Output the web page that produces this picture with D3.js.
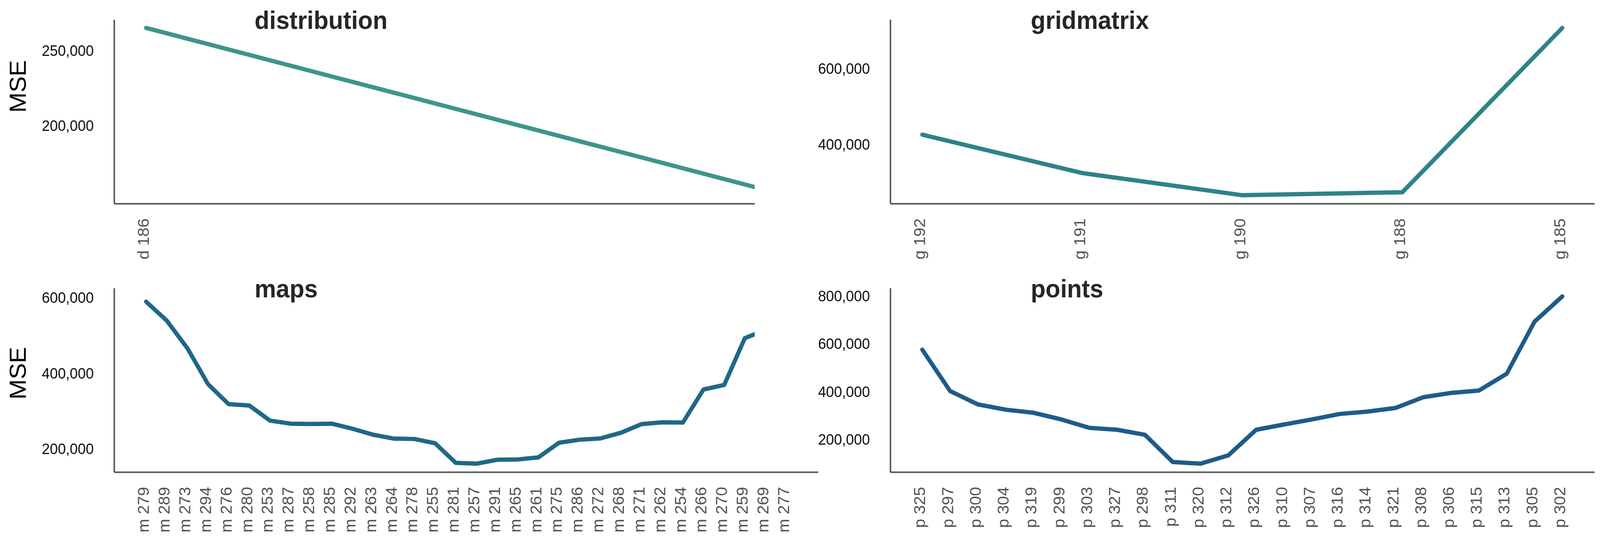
<!DOCTYPE html>
<html>
<head>
<meta charset="utf-8">
<script src="https://cdn.jsdelivr.net/npm/d3@7"></script>
<style>
  html, body { margin: 0; padding: 0; background: #fff; overflow: hidden; }
  #graph svg { display: block; }
  text { font-family: Arial, "Liberation Sans", sans-serif; }
</style>
</head>
<body>
<div id="graph"></div>
<script>
// values
let distCats = ["d 186", ""];   // 2nd category is cut off in the picture, no label visible
let distMSE = [265200, 154100];

let gridCats = ["g 192", "g 191", "g 190", "g 188", "g 185"];
let gridMSE = [426800, 325800, 267500, 275300, 707800];

let mapCats = ["m 279", "m 289", "m 273", "m 294", "m 276", "m 280", "m 253", "m 287",
    "m 258", "m 285", "m 292", "m 263", "m 264", "m 278", "m 255", "m 281",
    "m 257", "m 291", "m 265", "m 261", "m 275", "m 286", "m 272", "m 268",
    "m 271", "m 262", "m 254", "m 266", "m 270", "m 259", "m 269", "m 277"];
let mapMSE = [590000, 540000, 467000, 372000, 319000, 315500, 275600, 267500,
    266600, 267500, 254000, 238200, 228000, 227000, 215600, 163900,
    161700, 172000, 173000, 178300, 217000, 225200, 228400, 243500,
    266400, 271000, 270500, 358000, 369800, 493500, 515000, 604000];

let pointCats = ["p 325", "p 297", "p 300", "p 304", "p 319", "p 299", "p 303", "p 327",
    "p 298", "p 311", "p 320", "p 312", "p 326", "p 310", "p 307", "p 316",
    "p 314", "p 321", "p 308", "p 306", "p 315", "p 313", "p 305", "p 302"];
let pointMSE = [577000, 404000, 348000, 326000, 313000, 285000, 250000, 242000,
    221000, 107000, 100000, 135000, 242000, 264000, 285000, 308000,
    318000, 333000, 378000, 396000, 406000, 476000, 694000, 800000];

let distTicks = [200000, 250000];
let gridTicks = [400000, 600000];
let mapTicks = [200000, 400000, 600000];
let pointTicks = [200000, 400000, 600000, 800000];

const width = 4236, height = 1387;
const plotW = 1864, plotH = 471;
const cutX = 1998;   // left column is cut off here

// viewBox stretched over the window so the figure fills it edge to edge
let svg = d3.select("#graph")
    .append("svg")
    .attr("viewBox", `0 0 ${width} ${height}`)
    .attr("preserveAspectRatio", "none")
    .attr("width", "100vw")
    .attr("height", "100vh");

svg.append("rect").attr("width", width).attr("height", height).attr("fill", "#fff");

let defs = svg.append("defs");
defs.append("clipPath").attr("id", "cutAll")
    .append("rect").attr("x", 0).attr("y", 0).attr("width", cutX).attr("height", 690);
defs.append("clipPath").attr("id", "cutLine")
    .append("rect").attr("x", 0).attr("y", 0).attr("width", cutX).attr("height", height);

let fmt = d3.format(",");

function drawPanel(p) {
    let g = svg.append("g");
    if (p.clipAll) g.attr("clip-path", "url(#cutAll)");
    let inner = g.append("g").attr("transform", `translate(${p.left}, ${p.top})`);

    // seaborn-ish 5% margins on both axes
    let x = d3.scalePoint()
        .domain(p.cats)
        .range([0, plotW])
        .padding(0.05 * (p.cats.length - 1));

    let lo = d3.min(p.values), hi = d3.max(p.values), pad = (hi - lo) * 0.05;
    let y = d3.scaleLinear()
        .domain([lo - pad, hi + pad])
        .range([plotH, 0]);

    // y axis
    let ya = inner.append("g")
        .call(d3.axisLeft(y).tickValues(p.ticks).tickFormat(fmt).tickSize(0).tickPadding(54));
    ya.selectAll("text").style("font-size", "38px").attr("fill", "#111");

    // x axis, labels turned upright
    let xa = inner.append("g")
        .attr("transform", `translate(0, ${plotH})`)
        .call(d3.axisBottom(x).tickSize(0));
    xa.selectAll("text")
        .style("font-size", "42px")
        .attr("fill", "#555")
        .attr("text-anchor", "end")
        .attr("x", 0)
        .attr("y", 0)
        .attr("dy", "0.17em")
        .attr("transform", "rotate(-90) translate(-38, 0)");

    [ya, xa].forEach(a => a.select(".domain").attr("stroke", "#555").attr("stroke-width", 4));

    let line = d3.line()
        .x((d, i) => x(p.cats[i]))
        .y(d => y(d));

    let lineHolder = p.clipLine ? g.append("g").attr("clip-path", "url(#cutLine)") : g;
    lineHolder.append("path")
        .datum(p.values)
        .attr("transform", `translate(${p.left}, ${p.top})`)
        .attr("fill", "none")
        .attr("stroke", p.color)
        .attr("stroke-width", 11)
        .attr("stroke-linejoin", "round")
        .attr("stroke-linecap", "round")
        .attr("d", line);

    // title
    inner.append("text")
        .attr("x", 372)
        .attr("y", 24)
        .style("font-size", "64px")
        .style("font-weight", "bold")
        .attr("fill", "#262626")
        .text(p.title);

    if (p.ylabelY) {
        svg.append("text")
            .attr("transform", `translate(46, ${p.ylabelY}) rotate(-90)`)
            .attr("text-anchor", "middle")
            .attr("dy", "0.36em")
            .style("font-size", "62px")
            .attr("fill", "#000")
            .text("MSE");
    }
}

drawPanel({ title: "distribution", cats: distCats, values: distMSE, ticks: distTicks,
    left: 302, top: 50, color: "#3f948c", clipAll: true, clipLine: true, ylabelY: 221 });
drawPanel({ title: "gridmatrix", cats: gridCats, values: gridMSE, ticks: gridTicks,
    left: 2357, top: 50, color: "#2f8289" });
drawPanel({ title: "maps", cats: mapCats, values: mapMSE, ticks: mapTicks,
    left: 302, top: 737, color: "#1f6887", clipLine: true, ylabelY: 955 });
drawPanel({ title: "points", cats: pointCats, values: pointMSE, ticks: pointTicks,
    left: 2357, top: 737, color: "#1f5b88" });
</script>
</body>
</html>
